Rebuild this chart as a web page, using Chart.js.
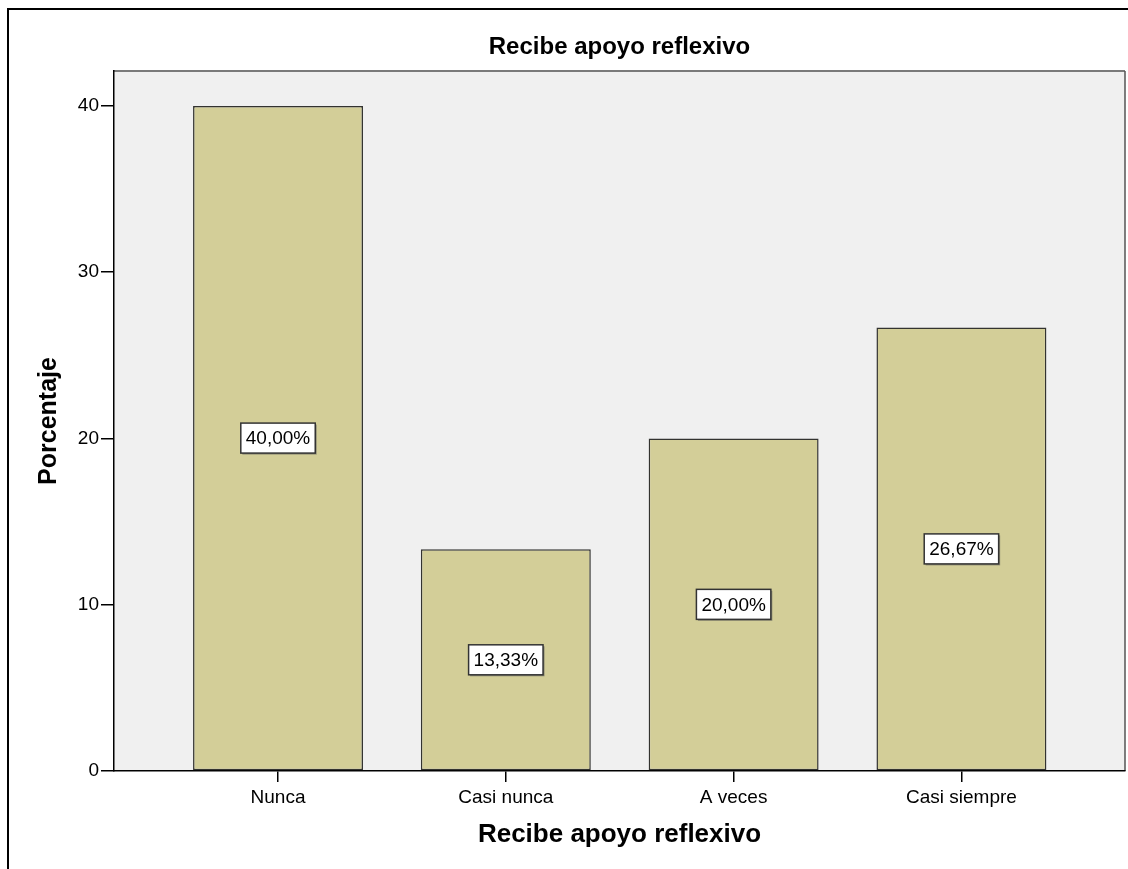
<!DOCTYPE html>
<html>
<head>
<meta charset="utf-8">
<script src="https://cdn.jsdelivr.net/npm/chart.js@4.4.1/dist/chart.umd.min.js"></script>
<style>
  html, body { margin: 0; padding: 0; background: #ffffff; }
  #wrap { width: 1128px; height: 869px; position: relative; }
</style>
</head>
<body>
<div id="wrap"><canvas id="c" width="1128" height="869"></canvas></div>
<script>
const categories = ['Nunca', 'Casi nunca', 'A veces', 'Casi siempre'];
const percentages = [40.00, 13.33, 20.00, 26.67];
const yTicks = [0, 10, 20, 30, 40];
const chartTitle = 'Recibe apoyo reflexivo';
const xTitle = 'Recibe apoyo reflexivo';
const yTitle = 'Porcentaje';

const FONT = "'Liberation Sans', Arial, sans-serif";

const points = categories.map((c, i) => ({ x: i, y: percentages[i] }));

const framePlugin = {
  id: 'frame',
  beforeDraw(chart) {
    const { ctx, chartArea: a } = chart;
    ctx.save();
    ctx.fillStyle = '#ffffff';
    ctx.fillRect(0, 0, chart.width, chart.height);
    ctx.strokeStyle = '#000000';
    ctx.lineWidth = 2;
    ctx.beginPath();
    ctx.moveTo(8, chart.height);
    ctx.lineTo(8, 9);
    ctx.lineTo(chart.width, 9);
    ctx.stroke();
    ctx.fillStyle = '#f0f0f0';
    ctx.fillRect(a.left, a.top, a.right - a.left, a.bottom - a.top);
    ctx.strokeStyle = '#7a7a7a';
    ctx.lineWidth = 2;
    ctx.beginPath();
    ctx.moveTo(a.left, a.top);
    ctx.lineTo(a.right, a.top);
    ctx.stroke();
    ctx.strokeStyle = '#555555';
    ctx.lineWidth = 1.5;
    ctx.beginPath();
    ctx.moveTo(a.right, a.top);
    ctx.lineTo(a.right, a.bottom);
    ctx.stroke();
    ctx.restore();
  }
};

const labelPlugin = {
  id: 'boxLabels',
  afterDatasetsDraw(chart) {
    const { ctx } = chart;
    const meta = chart.getDatasetMeta(0);
    ctx.save();
    ctx.font = '19px ' + FONT;
    ctx.textAlign = 'center';
    ctx.textBaseline = 'middle';
    meta.data.forEach((bar, i) => {
      const txt = percentages[i].toFixed(2).replace('.', ',') + '%';
      const cx = bar.x;
      const cy = (bar.y + bar.base) / 2;
      const w = ctx.measureText(txt).width + 10;
      const h = 30;
      ctx.fillStyle = 'rgba(90,90,90,0.55)';
      ctx.fillRect(cx - w / 2 + 1.5, cy - h / 2 + 1.5, w, h);
      ctx.fillStyle = '#ffffff';
      ctx.fillRect(cx - w / 2, cy - h / 2, w, h);
      ctx.strokeStyle = '#333333';
      ctx.lineWidth = 1.5;
      ctx.strokeRect(cx - w / 2, cy - h / 2, w, h);
      ctx.fillStyle = '#000000';
      ctx.fillText(txt, cx, cy + 1);
    });
    ctx.restore();
  }
};

new Chart(document.getElementById('c'), {
  type: 'bar',
  data: {
    datasets: [{
      data: points,
      backgroundColor: '#d3ce98',
      borderColor: '#333330',
      borderWidth: 1.5,
      borderSkipped: false,
      barPercentage: 0.746,
      categoryPercentage: 1.0
    }]
  },
  options: {
    responsive: false,
    animation: false,
    devicePixelRatio: 1,
    layout: { padding: { left: 0, right: 3, top: 0, bottom: 0 } },
    plugins: {
      legend: { display: false },
      tooltip: { enabled: false },
      title: {
        display: true,
        fullSize: false,
        text: chartTitle,
        color: '#000000',
        font: { family: FONT, size: 24, weight: 'bold' },
        padding: { top: 32.6, bottom: 9.6 }
      }
    },
    scales: {
      x: {
        type: 'linear',
        offset: false,
        min: -0.72,
        max: 3.718,
        afterBuildTicks(scale) {
          scale.ticks = categories.map((c, i) => ({ value: i }));
        },
        afterFit(scale) { scale.height = 98; },
        ticks: {
          autoSkip: false,
          maxRotation: 0,
          color: '#000000',
          padding: 4,
          font: { family: FONT, size: 19 },
          callback: (v) => categories[v]
        },
        grid: { display: true, offset: false, drawOnChartArea: false, tickLength: 11, color: '#000000', lineWidth: 1.5 },
        border: { display: true, color: '#000000', width: 1.5 },
        title: {
          display: true,
          text: xTitle,
          color: '#000000',
          font: { family: FONT, size: 26, weight: 'bold' },
          padding: { top: 0, bottom: 18.4 }
        }
      },
      y: {
        type: 'linear',
        min: 0,
        max: 42.1,
        afterBuildTicks(scale) {
          scale.ticks = yTicks.map(v => ({ value: v }));
        },
        afterFit(scale) { scale.width = 114; },
        ticks: {
          color: '#000000',
          padding: 2,
          font: { family: FONT, size: 19 }
        },
        grid: { display: true, drawOnChartArea: false, tickLength: 13, color: '#000000', lineWidth: 1.5 },
        border: { display: true, color: '#000000', width: 1.5 },
        title: {
          display: true,
          text: yTitle,
          color: '#000000',
          font: { family: FONT, size: 25, weight: 'bold' },
          padding: { top: 34, bottom: 0 }
        }
      }
    }
  },
  plugins: [framePlugin, labelPlugin]
});
</script>
</body>
</html>
